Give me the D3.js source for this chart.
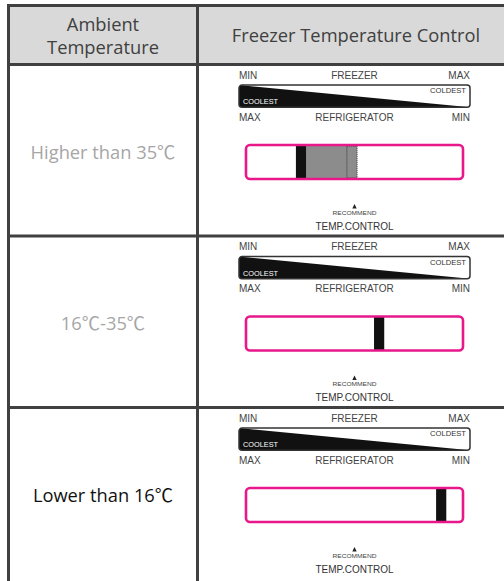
<!DOCTYPE html>
<html>
<head>
  <meta charset="UTF-8">
  <title>temp-control-table</title>
  <style>
    body { margin: 0; background: #fff; }
  </style>
</head>
<body>
  <div class="svg-zone"></div>
  <script src="https://cdn.jsdelivr.net/npm/d3@7"></script>
  <script type="text/javascript">
  // table content
  const headers = ["Ambient|Temperature", "Freezer Temperature Control"];
  const ambient = ["Higher than 35\u2103", "16\u2103-35\u2103", "Lower than 16\u2103"];
  const freezerLabels = ["MIN", "FREEZER", "MAX"];
  const fridgeLabels = ["MAX", "REFRIGERATOR", "MIN"];
  // dial setting, % of slider travel (left edge of the knob)
  const dialSetting = [23, 59, 87.6];
  // second allowed position (dotted knob), only for the hot row
  const dialAlt = [46.5, null, null];

  render();

  function render() {
    var width = 504,
      height = 581;

    var svg = d3.select(".svg-zone").append("svg")
      .attr("width", width)
      .attr("height", height);

    var colX = [8.5, 197.5, 520];
    var headTop = 5.5, headBottom = 64.5;
    var rows = d3.scaleBand()
      .domain(d3.range(ambient.length))
      .range([headBottom, headBottom + 3 * 171.5]);

    var lineColor = "#404040";
    var bodyFont = "'Open Sans', 'Noto Sans CJK SC', sans-serif";
    var diagFont = "'Liberation Sans', Arial, sans-serif";
    var bodySize = "18.3px";

    // header background
    svg.append("rect")
      .attr("x", colX[0]).attr("y", headTop)
      .attr("width", colX[2] - colX[0]).attr("height", headBottom - headTop)
      .style("fill", "#d9d9d9");

    // header text
    var c0 = (colX[0] + colX[1]) / 2;
    var c1 = 356;
    var h0 = svg.append("text")
      .attr("x", c0).attr("y", 31)
      .attr("text-anchor", "middle")
      .style("font-family", bodyFont).style("font-size", bodySize)
      .style("fill", "#404040");
    headers[0].split("|").forEach(function (t, i) {
      h0.append("tspan").attr("x", c0).attr("dy", i ? 22.5 : 0).text(t);
    });
    svg.append("text")
      .attr("x", c1).attr("y", 42)
      .attr("text-anchor", "middle")
      .style("font-family", bodyFont).style("font-size", bodySize)
      .style("fill", "#404040")
      .text(headers[1]);

    // ambient labels
    svg.selectAll(".amb")
      .data(ambient)
      .enter().append("text")
      .attr("class", "amb")
      .attr("x", c0)
      .attr("y", function (d, i) { return rows(i) + rows.bandwidth() / 2 + 8.5; })
      .attr("text-anchor", "middle")
      .style("font-family", bodyFont).style("font-size", bodySize)
      .style("fill", function (d, i) { return i === ambient.length - 1 ? "#111" : "#a6a6a6"; })
      .text(function (d) { return d; });

    // diagrams
    var left = 239, right = 470;
    var sx = d3.scaleLinear().domain([0, 100]).range([246, 463]);
    var knob = 4.7;

    var diag = svg.selectAll(".diag")
      .data(dialSetting)
      .enter().append("g")
      .attr("class", "diag")
      .attr("transform", function (d, i) { return "translate(0," + (rows(i) + 14) + ")"; });

    function scaleRow(g, labels, y) {
      g.selectAll(null).data(labels).enter().append("text")
        .attr("x", function (d, i) { return [left, (left + right) / 2, right][i]; })
        .attr("y", y)
        .attr("text-anchor", function (d, i) { return ["start", "middle", "end"][i]; })
        .style("font-family", diagFont).style("font-size", "10px")
        .style("fill", "#444")
        .text(function (d) { return d; });
    }

    diag.each(function (d, i) {
      var g = d3.select(this);
      scaleRow(g, freezerLabels, 0);

      // wedge bar
      var bt = 6.6, bb = 28.7;
      var clipId = "clip" + i;
      g.append("clipPath").attr("id", clipId)
        .append("rect")
        .attr("x", left).attr("y", bt)
        .attr("width", right - left).attr("height", bb - bt)
        .attr("rx", 3);
      g.append("path")
        .attr("clip-path", "url(#" + clipId + ")")
        .attr("d", d3.line()([[left, bt], [right, bb], [left, bb]]) + "Z")
        .style("fill", "#111");
      g.append("rect")
        .attr("x", left).attr("y", bt)
        .attr("width", right - left).attr("height", bb - bt)
        .attr("rx", 3)
        .style("fill", "none").style("stroke", "#333").style("stroke-width", 1.5);
      g.append("text")
        .attr("x", left + 4).attr("y", bb - 3)
        .attr("textLength", 35).attr("lengthAdjust", "spacingAndGlyphs")
        .style("font-family", diagFont).style("font-size", "6.5px")
        .style("fill", "#fff")
        .text("COOLEST");
      g.append("text")
        .attr("x", right - 40).attr("y", bt + 8)
        .attr("textLength", 36).attr("lengthAdjust", "spacingAndGlyphs")
        .style("font-family", diagFont).style("font-size", "6.5px")
        .style("fill", "#333")
        .text("COLDEST");

      scaleRow(g, fridgeLabels, 42);

      // slider
      var st = 66.5, sb = 100.5;
      if (dialAlt[i] != null) {
        g.append("rect")
          .attr("x", sx(d + knob)).attr("y", st)
          .attr("width", sx(dialAlt[i] + knob) - sx(d + knob)).attr("height", sb - st)
          .style("fill", "#8c8c8c");
        g.append("rect")
          .attr("x", sx(dialAlt[i])).attr("y", st + 1)
          .attr("width", sx(dialAlt[i] + knob) - sx(dialAlt[i])).attr("height", sb - st - 2)
          .style("fill", "none").style("stroke", "#222")
          .style("stroke-width", 0.8).style("stroke-dasharray", "1,1");
      }
      g.append("rect")
        .attr("x", sx(d)).attr("y", st)
        .attr("width", sx(d + knob) - sx(d)).attr("height", sb - st)
        .style("fill", "#111");
      g.append("rect")
        .attr("x", sx(0)).attr("y", st)
        .attr("width", sx(100) - sx(0)).attr("height", sb - st)
        .attr("rx", 4)
        .style("fill", "none").style("stroke", "#e8178a").style("stroke-width", 2.6);

      // recommend mark
      var cx = (left + right) / 2;
      g.append("path")
        .attr("d", d3.line()([[cx - 2.2, 130], [cx, 125.5], [cx + 2.2, 130]]) + "Z")
        .style("fill", "#222");
      g.append("text")
        .attr("x", cx - 22).attr("y", 136)
        .attr("textLength", 44).attr("lengthAdjust", "spacingAndGlyphs")
        .style("font-family", diagFont).style("font-size", "5.5px")
        .style("fill", "#444")
        .text("RECOMMEND");
      g.append("text")
        .attr("x", cx).attr("y", 151)
        .attr("text-anchor", "middle")
        .style("font-family", diagFont).style("font-size", "10px")
        .style("fill", "#333")
        .text("TEMP.CONTROL");
    });

    // grid lines
    var hy = [headTop, headBottom, rows(1), rows(2)];
    svg.selectAll(".hline").data(hy).enter().append("line")
      .attr("class", "hline")
      .attr("x1", colX[0] - 1.5).attr("x2", width)
      .attr("y1", function (d) { return d; }).attr("y2", function (d) { return d; })
      .style("stroke", lineColor).style("stroke-width", 3);
    svg.selectAll(".vline").data(colX.slice(0, 2)).enter().append("line")
      .attr("class", "vline")
      .attr("x1", function (d) { return d; }).attr("x2", function (d) { return d; })
      .attr("y1", headTop - 1.5).attr("y2", height)
      .style("stroke", lineColor).style("stroke-width", 3);
  }
  </script>
</body>
</html>
